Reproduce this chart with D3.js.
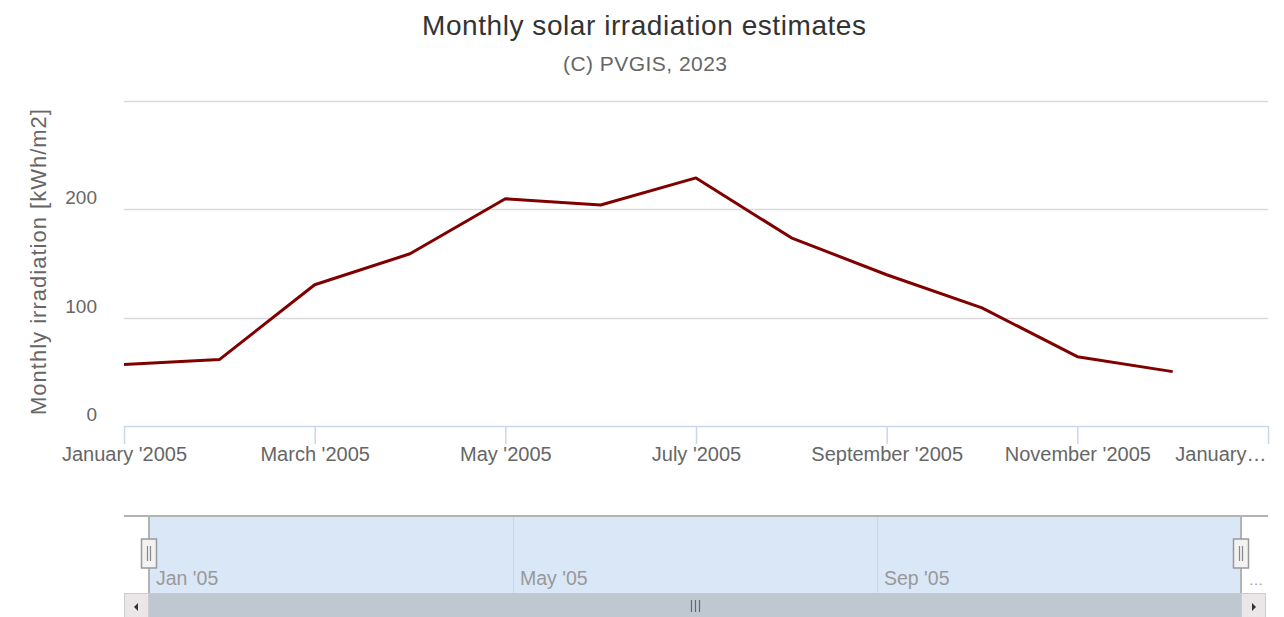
<!DOCTYPE html>
<html>
<head>
<meta charset="utf-8">
<script src="https://cdn.jsdelivr.net/npm/d3@7"></script>
<style>
  body { margin: 0; background: #fff; }
  svg { display: block; font-family: "Liberation Sans", Arial, sans-serif; }
</style>
</head>
<body>
<div id="chart"></div>
<script>
// monthly irradiation, kWh/m2 (2005)
const months = ["Jan", "Feb", "Mar", "Apr", "May", "Jun", "Jul", "Aug", "Sep", "Oct", "Nov", "Dec"];
const irradiation = [56.7, 61.3, 130.4, 159, 209.7, 204, 229, 173.7, 139.6, 109, 64, 50.2];
const xTickIdx = [0, 2, 4, 6, 8, 10, 12];
const xTickLabels = ["January '2005", "March '2005", "May '2005", "July '2005", "September '2005", "November '2005", "January…"];
const yTicks = [0, 100, 200];
const yGrid = [100, 200, 300];
const navTickIdx = [0, 4, 8];
const navTickLabels = ["Jan '05", "May '05", "Sep '05"];

const width = 1284, height = 617;
const plot = { left: 124, right: 1268, top: 101, bottom: 426 };

const svg = d3.select("#chart").append("svg")
    .attr("width", width)
    .attr("height", height);

// titles
svg.append("text")
    .attr("x", 644).attr("y", 35)
    .attr("text-anchor", "middle")
    .attr("font-size", 28)
    .attr("textLength", 444)
    .attr("fill", "#333")
    .text("Monthly solar irradiation estimates");
svg.append("text")
    .attr("x", 645).attr("y", 71)
    .attr("text-anchor", "middle")
    .attr("font-size", 21)
    .attr("textLength", 164)
    .attr("fill", "#666")
    .text("(C) PVGIS, 2023");

const x = d3.scaleLinear().domain([0, 12]).range([plot.left, plot.right]);
const y = d3.scaleLinear().domain([0, 300]).range([plot.bottom, plot.top]);

// grid
svg.append("g")
    .selectAll("line")
    .data(yGrid)
    .join("line")
    .attr("x1", plot.left).attr("x2", plot.right)
    .attr("y1", d => Math.round(y(d)) + 0.5)
    .attr("y2", d => Math.round(y(d)) + 0.5)
    .attr("stroke", "#d9d9d9")
    .attr("stroke-width", 1.5);

// y labels
svg.append("g")
    .selectAll("text")
    .data(yTicks)
    .join("text")
    .attr("x", 97)
    .attr("y", d => y(d) - 5)
    .attr("text-anchor", "end")
    .attr("font-size", 19)
    .attr("fill", "#666")
    .text(d => d);

svg.append("text")
    .attr("transform", `translate(46,262) rotate(-90)`)
    .attr("text-anchor", "middle")
    .attr("font-size", 22)
    .attr("textLength", 306)
    .attr("fill", "#666")
    .text("Monthly irradiation [kWh/m2]");

// x axis
const xAxis = d3.axisBottom(x)
    .tickValues(xTickIdx)
    .tickSize(18)
    .tickPadding(3)
    .tickFormat((d, i) => xTickLabels[i]);
const gx = svg.append("g")
    .attr("transform", `translate(0,${plot.bottom})`)
    .call(xAxis);
gx.select(".domain").attr("stroke", "#ccd6eb").attr("stroke-width", 1.5).attr("d", `M${plot.left},0.5H${plot.right}`);
gx.selectAll(".tick line").attr("stroke", "#ccd6eb").attr("stroke-width", 1.5);
gx.selectAll(".tick text")
    .attr("font-size", 20)
    .attr("font-family", "Liberation Sans, Arial, sans-serif")
    .attr("fill", "#666");
// last label is clipped at the chart edge
gx.selectAll(".tick text").filter(d => d === 12)
    .attr("text-anchor", "end")
    .attr("dx", -2);

// series
const line = d3.line()
    .x((d, i) => x(i))
    .y(d => y(d));
svg.append("path")
    .datum(irradiation)
    .attr("fill", "none")
    .attr("stroke", "#800000")
    .attr("stroke-width", 3)
    .attr("stroke-linejoin", "round")
    .attr("d", line);

// navigator
const nav = { left: 124, right: 1268, top: 516, bottom: 593 };
const nx = d3.scaleLinear().domain([0, 12]).range([149, 1241]);

svg.append("rect")
    .attr("x", nx(0)).attr("y", nav.top)
    .attr("width", nx(12) - nx(0)).attr("height", nav.bottom - nav.top)
    .attr("fill", "#d9e7f7");

svg.append("g")
    .selectAll("line")
    .data(navTickIdx.slice(1))
    .join("line")
    .attr("x1", d => nx(d) + 0.5).attr("x2", d => nx(d) + 0.5)
    .attr("y1", nav.top).attr("y2", nav.bottom)
    .attr("stroke", "#c9d7ea")
    .attr("stroke-width", 1);

svg.append("g")
    .selectAll("text")
    .data(navTickIdx)
    .join("text")
    .attr("x", d => nx(d) + 7)
    .attr("y", 585)
    .attr("font-size", 19.5)
    .attr("fill", "#999")
    .text((d, i) => navTickLabels[i]);

svg.append("text")
    .attr("x", 1257).attr("y", 585)
    .attr("text-anchor", "middle")
    .attr("font-size", 15)
    .attr("letter-spacing", 2)
    .attr("fill", "#999")
    .text("…");

// outline of the navigator
svg.append("path")
    .attr("fill", "none")
    .attr("stroke", "#b3b3b3")
    .attr("stroke-width", 2)
    .attr("d", `M${nav.left},${nav.top}H${nx(0)}V${nav.bottom}M${nx(0)},${nav.top}H${nx(12)}V${nav.bottom}M${nx(12)},${nav.top}H${nav.right}`);

// handles
const handles = svg.append("g")
    .selectAll("g")
    .data([0, 12])
    .join("g")
    .attr("transform", d => `translate(${nx(d)},539)`);
handles.append("rect")
    .attr("x", -7.5).attr("y", 0)
    .attr("width", 15).attr("height", 29)
    .attr("fill", "#f2f2f2")
    .attr("stroke", "#999")
    .attr("stroke-width", 1.5);
handles.append("path")
    .attr("stroke", "#888")
    .attr("stroke-width", 1.2)
    .attr("d", "M-1.5,7V22M1.5,7V22");

// scrollbar
svg.append("rect")
    .attr("x", 149).attr("y", nav.bottom)
    .attr("width", 1241 - 149).attr("height", 26)
    .attr("fill", "#bfc8d1");
svg.append("path")
    .attr("stroke", "#666")
    .attr("stroke-width", 1.2)
    .attr("d", "M691.5,600V612M695.5,600V612M699.5,600V612");

const buttons = svg.append("g")
    .selectAll("g")
    .data([{ x: 124, dir: -1 }, { x: 1241, dir: 1 }])
    .join("g")
    .attr("transform", d => `translate(${d.x},${nav.bottom})`);
buttons.append("rect")
    .attr("x", 0.5).attr("y", 0.5)
    .attr("width", 24).attr("height", 26)
    .attr("fill", "#ebe7e8")
    .attr("stroke", "#ccc");
buttons.append("path")
    .attr("fill", "#333")
    .attr("d", d => d.dir < 0 ? "M10,14L14,10V18Z" : "M15,14L11,10V18Z");
</script>
</body>
</html>
